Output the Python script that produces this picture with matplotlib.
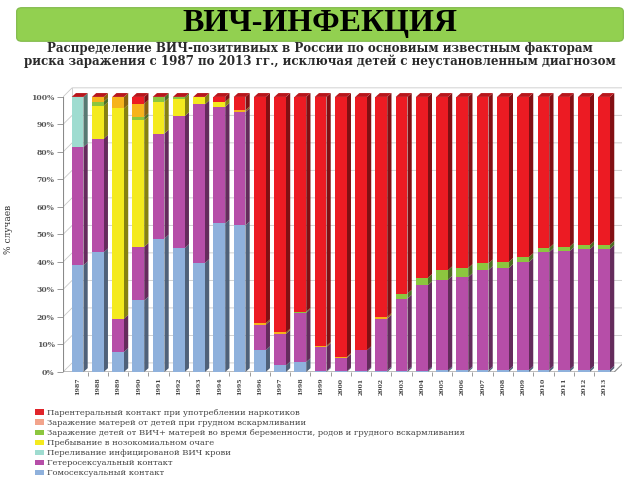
import matplotlib
matplotlib.use('Agg')
import matplotlib.pyplot as plt
from matplotlib.patches import FancyBboxPatch, Patch
import matplotlib.colors as mcolors
import numpy as np

years = [str(y) for y in range(1987, 2014)]

# shares, % of cases (bottom -> top of each bar)
homo = [38.8, 43.5, 7.3, 26.0, 48.5, 45.0, 39.6, 54.0, 53.3, 7.9, 2.4, 3.6, 0.3, 0.2,
        0.3, 0.5, 0.5, 0.5, 0.6, 0.6, 0.6, 0.7, 0.7, 0.8, 0.8, 0.8, 0.8]
hetero = [43.0, 41.3, 12.1, 19.5, 38.2, 48.0, 57.7, 42.4, 41.2, 9.3, 11.5, 17.9, 8.8, 4.9,
          7.6, 18.9, 26.2, 31.0, 33.0, 33.9, 36.5, 37.1, 39.3, 42.8, 43.1, 43.8, 44.0]
blood = [18.2, 0, 0, 0, 0, 0, 0, 0, 0, 0, 0, 0, 0, 0,
         0, 0, 0, 0, 0, 0, 0, 0, 0, 0, 0, 0, 0]
hospital = [0, 12.0, 76.4, 46.0, 11.5, 6.4, 2.7, 1.8, 0, 0, 0, 0, 0, 0,
            0, 0, 0, 0, 0, 0, 0, 0, 0, 0, 0, 0, 0]
children = [0, 1.5, 0, 1.2, 1.8, 0.6, 0, 0, 0, 0, 0, 0.4, 0, 0,
            0, 0, 1.8, 2.7, 3.4, 3.3, 2.4, 2.2, 1.8, 1.5, 1.6, 1.5, 1.5]
mothers = [0, 1.7, 4.2, 4.8, 0, 0, 0, 0, 0.6, 0.5, 0.5, 0, 0.4, 0.3,
           0, 0.6, 0, 0, 0, 0, 0, 0, 0, 0, 0, 0, 0]
drugs = [0, 0, 0, 2.5, 0, 0, 0, 1.8, 4.9, 82.3, 85.6, 78.1, 90.5, 94.6,
         92.1, 80.0, 71.5, 65.8, 63.0, 62.2, 60.5, 60.0, 58.2, 54.9, 54.5, 53.9, 53.7]

series = [homo, hetero, blood, hospital, children, mothers, drugs]
bar_colors = ['#8fb1dc', '#b64ea8', '#9fdcd0', '#f4ea1e', '#8cc63f', '#f6b31c', '#ec1b23']
legend_colors = ['#8fb1dc', '#b64ea8', '#9fdcd0', '#f4ea1e', '#8cc63f', '#f2a48c', '#e0242a']
labels = ['Гомосексуальный контакт',
          'Гетеросексуальный контакт',
          'Переливание инфицированой ВИЧ крови',
          'Пребывание в нозокомиальном очаге',
          'Заражение детей от ВИЧ+ матерей во время беременности, родов и грудного вскармливания',
          'Заражение матерей от детей при грудном вскармливании',
          'Парентеральный контакт при употреблении наркотиков']

fig = plt.figure(figsize=(6.4, 4.8), dpi=100)

# green banner with title
banner = FancyBboxPatch((0.03, 0.918), 0.94, 0.062, boxstyle='round,pad=0.004,rounding_size=0.008',
                        transform=fig.transFigure, facecolor='#92d050', edgecolor='#7fb848', lw=0.8)
fig.patches.append(banner)
fig.text(0.5, 0.950, 'ВИЧ-ИНФЕКЦИЯ', ha='center', va='center', fontsize=23,
         fontweight='bold', family='Liberation Serif', color='black')
fig.text(0.5, 0.899, 'Распределение ВИЧ-позитивиых в России по основиым известным факторам',
         ha='center', va='center', fontsize=8.6, fontweight='bold', family='DejaVu Serif', color='#2a2a2a')
fig.text(0.5, 0.873, 'риска заражения с 1987 по 2013 гг., исключая детей с неустановленным диагнозом',
         ha='center', va='center', fontsize=8.6, fontweight='bold', family='DejaVu Serif', color='#2a2a2a')

ax = fig.add_axes([63 / 640, 0.225, 0.874, 0.596])
x = np.arange(len(years))
xmin, xmax = -0.72, 26.9
ax.set_xlim(xmin, xmax)
ax.set_ylim(0, 104)

w, dx, dy = 0.58, 0.21, 1.4      # bar front width, bar depth
wdx, wdy = 0.45, 3.3             # wall depth

# walls and grid
ticks = np.arange(0, 101, 10)
for t in ticks:
    ax.plot([xmin, xmin + wdx, 26.5 + wdx], [t, t + wdy, t + wdy], color='#c9c9c9', lw=0.6, zorder=0)
    ax.plot([26.5 + wdx, 26.5 + wdx + 0.15], [t + wdy, t + wdy], color='#9a9a9a', lw=0.6, zorder=0)
ax.plot([xmin + wdx, xmin + wdx], [wdy, 100 + wdy], color='#c9c9c9', lw=0.6, zorder=0)
ax.plot([xmin, xmin], [0, 100], color='#8a8a8a', lw=0.8, zorder=1)
ax.plot([xmin, 26.5, 26.5 + wdx], [0, 0, wdy], color='#8a8a8a', lw=0.8, zorder=1)

# 3d-looking stacked bars
bottom = np.zeros(len(years))
for vals, col in zip(series, bar_colors):
    vals = np.array(vals, dtype=float)
    dark = np.array(mcolors.to_rgb(col)) * 0.55
    ax.bar(x, vals, w, bottom=bottom, color=col, zorder=3)
    for i in range(len(years)):
        if vals[i] <= 0:
            continue
        b0, b1 = bottom[i], bottom[i] + vals[i]
        xr = x[i] + w / 2
        ax.fill([xr, xr + dx, xr + dx, xr], [b0, b0 + dy, b1 + dy, b1], color=dark, lw=0, zorder=2)
    bottom = bottom + vals

# top caps take the colour of the upper series
cap = np.array(mcolors.to_rgb(bar_colors[-1])) * 0.78
for i in range(len(years)):
    xl, xr = x[i] - w / 2, x[i] + w / 2
    t = bottom[i]
    ax.fill([xl, xl + dx, xr + dx, xr], [t, t + dy, t + dy, t], color=cap, lw=0, zorder=4)

for s in ax.spines.values():
    s.set_visible(False)
ax.set_yticks(ticks)
ax.set_yticklabels([f'{t}%' for t in ticks], fontsize=5.5, fontweight='bold',
                   family='DejaVu Serif', color='#555555')
ax.tick_params(axis='y', length=4, width=0.6, color='#8a8a8a', pad=2)
ax.set_xticks(x)
ax.set_xticklabels(years, rotation=90, fontsize=4.5, fontweight='bold',
                   family='DejaVu Serif', color='#444444')
ax.set_xticks(x[:-1] + 0.5, minor=True)
ax.tick_params(axis='x', which='major', length=0, pad=4)
ax.tick_params(axis='x', which='minor', length=3, width=0.6, color='#8a8a8a')
ax.set_ylabel('% случаев', fontsize=6.5, family='DejaVu Serif', color='#333333', labelpad=13)

handles = [Patch(facecolor=c, edgecolor='none') for c in legend_colors[::-1]]
fig.legend(handles, labels[::-1], loc='upper left', bbox_to_anchor=(0.055, 0.148),
           frameon=False, prop={'family': 'DejaVu Serif', 'size': 6},
           handlelength=1.0, handleheight=0.6, handletextpad=0.4, labelspacing=0.25,
           borderaxespad=0, borderpad=0, labelcolor='#444444')

fig.savefig('out.png', dpi=100)
